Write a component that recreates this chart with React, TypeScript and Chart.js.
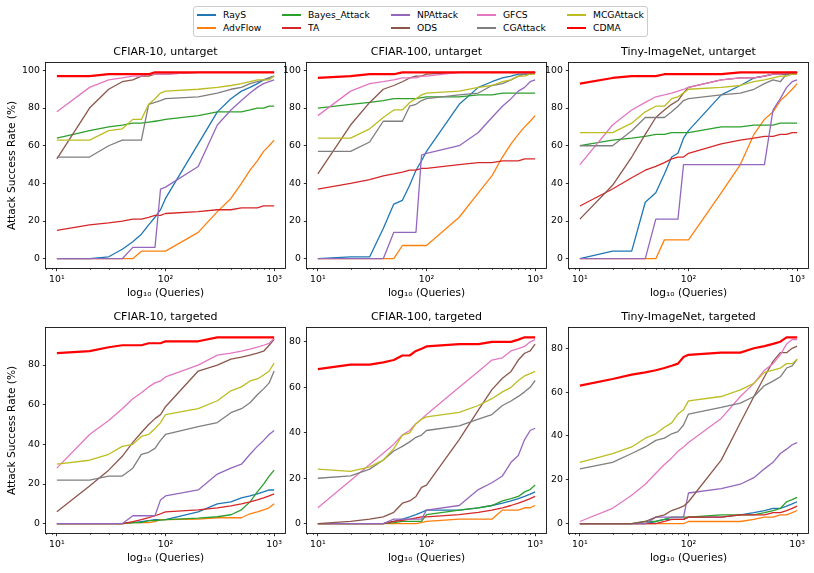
import React, { useEffect, useRef } from 'react';
import { Chart, registerables } from 'chart.js';

Chart.register(...registerables);

const FONT = "'DejaVu Sans', 'Liberation Sans', sans-serif";

// ---------------- data ----------------
const queries = [10, 20, 30, 40, 50, 60, 70, 80, 90, 100, 200, 300, 400, 500, 600, 700, 800, 900, 1000];
const methods = ['RayS', 'AdvFlow', 'Bayes_Attack', 'TA', 'NPAttack', 'ODS', 'GFCS', 'CGAttack', 'MCGAttack', 'CDMA'];
const colors = ['#1f77b4', '#ff7f0e', '#2ca02c', '#d62728', '#9467bd', '#8c564b', '#e377c2', '#7f7f7f', '#bcbd22', '#ff0000'];
const xMajorTicks = [10, 100, 1000];
const xMajorLabels = ['10¹', '10²', '10³'];
const xMinorTicks = [8, 9, 20, 30, 40, 50, 60, 70, 80, 90, 200, 300, 400, 500, 600, 700, 800, 900];
const yTickStep = 20;

// CFIAR-10, untarget
const c10u_RayS = [0, 0, 1, 5, 9, 13, 18, 22, 26, 32, 61, 78, 85, 89, 91, 93, 95, 96, 97];
const c10u_AdvFlow = [0, 0, 0, 0, 0, 4, 4, 4, 4, 4, 14, 25, 32, 40, 47, 52, 57, 60, 63];
const c10u_Bayes = [64, 68, 70, 71, 72, 72, 72.5, 73, 73.5, 74, 76, 78, 78, 78, 79, 80, 80, 81, 81];
const c10u_TA = [15, 18, 19, 20, 21, 21, 22, 23, 23, 24, 25, 26, 26, 27, 27, 27, 28, 28, 28];
const c10u_NPAttack = [0, 0, 0, 0, 6, 6, 6, 6, 37, 38, 49, 71, 79, 84, 88, 91, 93, 94, 95];
const c10u_ODS = [53, 80, 90, 94, 95, 97, 97, 98, 98, 98, 99, 99, 99, 99, 99, 99, 99, 99, 99];
const c10u_GFCS = [78, 91, 95, 96, 97, 97, 98, 98, 98, 98, 99, 99, 99, 99, 99, 99, 99, 99, 99];
const c10u_CGAttack = [54, 54, 60, 63, 63, 63, 82, 83, 84, 85, 86, 88, 90, 91, 93, 94, 95, 96, 97];
const c10u_MCGAttack = [63, 63, 68, 69, 74, 74, 82, 85, 88, 89, 90, 91, 92, 93, 94, 95, 95, 95, 97];
const c10u_CDMA = [97, 97, 98, 98, 98, 98, 98, 99, 99, 99, 99, 99, 99, 99, 99, 99, 99, 99, 99];

// CFIAR-100, untarget
const c100u_RayS = [0, 1, 1, 16, 29, 31, 39, 47, 52, 57, 82, 91, 94, 96, 97, 98, 98, 98, 99];
const c100u_AdvFlow = [0, 0, 0, 0, 0, 7, 7, 7, 7, 7, 22, 35, 44, 54, 61, 66, 70, 73, 76];
const c100u_Bayes = [80, 82, 83, 84, 85, 85, 85, 85, 85.5, 86, 86, 87, 87, 88, 88, 88, 88, 88, 88];
const c100u_TA = [37, 40, 42, 44, 45, 46, 47, 47, 48, 48, 50, 51, 51, 52, 52, 52, 53, 53, 53];
const c100u_NPAttack = [0, 0, 0, 0, 14, 14, 14, 14, 55, 56, 60, 67, 75, 81, 85, 89, 91, 94, 95];
const c100u_ODS = [45, 71, 83, 90, 92, 94, 96, 97, 97, 98, 99, 99, 99, 99, 99, 99, 99, 99, 99];
const c100u_GFCS = [76, 89, 93, 94, 95, 96, 96, 96, 97, 97, 99, 99, 99, 99, 99, 99, 99, 99, 99];
const c100u_CGAttack = [57, 57, 62, 73, 73, 73, 81, 82, 84, 85, 87, 88, 92, 93, 95, 97, 98, 98, 99];
const c100u_MCGAttack = [64, 64, 69, 75, 79, 79, 83, 85, 87, 88, 89, 91, 92, 94, 95, 97, 97, 98, 98];
const c100u_CDMA = [96, 97, 98, 98, 98, 99, 99, 99, 99, 99, 99, 99, 99, 99, 99, 99, 99, 99, 99];

// Tiny-ImageNet, untarget
const tinyu_RayS = [0, 4, 4, 30, 35, 45, 54, 56, 64, 68, 87, 92, 96, 97, 98, 98, 98, 98, 99];
const tinyu_AdvFlow = [0, 0, 0, 0, 0, 10, 10, 10, 10, 10, 35, 50, 66, 74, 78, 84, 87, 90, 93];
const tinyu_Bayes = [60, 63, 64, 65, 66, 66, 67, 67, 67, 67, 70, 70, 71, 71, 71, 72, 72, 72, 72];
const tinyu_TA = [28, 37, 43, 47, 49, 51, 53, 54, 54, 56, 61, 63, 64, 65, 65, 66, 66, 67, 67];
const tinyu_NPAttack = [0, 0, 0, 0, 21, 21, 21, 21, 50, 50, 50, 50, 50, 50, 79, 85, 91, 94, 95];
const tinyu_ODS = [21, 39, 54, 66, 75, 79, 82, 84, 88, 91, 95, 96, 96, 97, 98, 98, 98, 98, 99];
const tinyu_GFCS = [50, 71, 79, 83, 86, 87, 88, 89, 90, 91, 95, 96, 96, 97, 98, 98, 99, 99, 99];
const tinyu_CGAttack = [60, 60, 68, 75, 75, 75, 78, 81, 84, 85, 87, 88, 90, 93, 95, 94, 98, 98, 98];
const tinyu_MCGAttack = [67, 67, 72, 78, 81, 81, 85, 86, 88, 90, 91, 92, 94, 95, 96, 97, 97, 98, 98];
const tinyu_CDMA = [93, 96, 97, 97, 97, 98, 98, 98, 98, 98, 98, 99, 99, 99, 99, 99, 99, 99, 99];

// CFIAR-10, targeted
const c10t_RayS = [0, 0, 0, 0, 0.5, 1, 1.5, 2, 2, 2, 6, 10, 11, 13, 14, 15, 16, 17, 17];
const c10t_AdvFlow = [0, 0, 0, 0, 0.5, 0.5, 0.5, 1, 2, 2, 2.3, 3, 3, 3, 5, 6, 7, 8, 10];
const c10t_Bayes = [0, 0, 0, 0, 0.5, 0.5, 1.5, 1.5, 1.8, 2, 2.8, 3.5, 4.5, 7, 11, 16, 20, 24, 27];
const c10t_TA = [0, 0, 0, 0, 1, 2, 3, 4, 5, 6, 7, 8, 9, 10, 11, 12, 13, 14, 15];
const c10t_NPAttack = [0, 0, 0, 0, 4, 4, 4, 4, 12, 14, 17, 25, 28, 30, 35, 39, 42, 45, 47];
const c10t_ODS = [6, 19, 27, 34, 41, 46, 50, 53, 55, 59, 77, 80, 83, 84, 85, 86, 87, 90, 93];
const c10t_GFCS = [28, 45, 52, 58, 63, 66, 69, 71, 72, 74, 80, 85, 86, 87, 88, 89, 90, 91, 93.5];
const c10t_CGAttack = [22, 22, 24, 24, 28, 35, 36, 38, 42, 45, 49, 51, 56, 58, 61, 65, 68, 71, 77];
const c10t_MCGAttack = [30, 32, 35, 39, 40, 44, 45, 48, 51, 55, 58, 62, 67, 69, 72, 73, 75, 77, 81];
const c10t_CDMA = [86, 87, 89, 90, 90, 90, 91, 91, 91, 92, 92, 94, 94, 94, 94, 94, 94, 94, 94];

// CFIAR-100, targeted
const c100t_RayS = [0, 0, 0, 0, 1, 2, 3, 4, 5, 6, 6, 7, 8, 9, 10, 11, 12, 13, 14];
const c100t_AdvFlow = [0, 0, 0, 0, 0, 0, 0, 0, 0.5, 1, 2, 2, 2, 6, 6, 6, 7, 7, 8];
const c100t_Bayes = [0, 0, 0, 0, 0.5, 1, 1, 1, 1, 4, 6, 7, 8, 10, 11, 12, 14, 15, 17];
const c100t_TA = [0, 0, 0, 0, 1, 1.5, 2, 2.5, 3, 3, 4, 5, 6, 7, 8, 9, 10, 11, 12];
const c100t_NPAttack = [0, 0, 0, 0, 2, 2, 2, 2, 2, 6, 8, 15, 18, 21, 27, 30, 37, 41, 42];
const c100t_ODS = [0, 1, 2, 3, 5, 9, 10, 12, 16, 17, 37, 50, 59, 64, 67, 72, 75, 76, 79];
const c100t_GFCS = [7, 19, 26, 31, 35, 39, 41, 44, 46, 48, 60, 67, 72, 73, 76, 77, 78, 80, 81];
const c100t_CGAttack = [20, 21, 24, 28, 32, 34, 36, 38, 39, 41, 43, 46, 48, 52, 54, 56, 58, 60, 63];
const c100t_MCGAttack = [24, 23, 25, 28, 33, 39, 40, 44, 46, 47, 49, 52, 55, 58, 60, 63, 65, 66, 67];
const c100t_CDMA = [68, 70, 70, 71, 72, 74, 74, 76, 77, 78, 79, 79, 80, 80, 80, 81, 82, 82, 82];

// Tiny-ImageNet, targeted
const tinyt_RayS = [0, 0, 0, 0, 1, 2, 2, 2, 2, 3, 3, 4, 5, 6, 7, 7, 8, 9, 10];
const tinyt_AdvFlow = [0, 0, 0, 0, 0, 0, 0, 0, 0, 1, 1, 1, 2, 3, 3, 4, 4, 5, 6];
const tinyt_Bayes = [0, 0, 0, 1, 1, 2, 3, 3, 3, 3, 4, 4, 4, 5, 6, 7, 10, 11, 12];
const tinyt_TA = [0, 0, 0, 0, 0, 1, 2, 2, 2, 3, 3, 4, 4, 4, 5, 5, 6, 7, 8];
const tinyt_NPAttack = [0, 0, 0, 0, 3, 3, 3, 3, 3, 14, 16, 18, 21, 25, 28, 32, 34, 36, 37];
const tinyt_ODS = [0, 0, 0, 1, 3, 4, 6, 7, 8, 10, 29, 46, 58, 67, 74, 78, 78, 80, 81];
const tinyt_GFCS = [1, 7, 13, 18, 23, 27, 30, 33, 35, 37, 48, 58, 64, 70, 73, 77, 82, 84, 84];
const tinyt_CGAttack = [25, 28, 32, 35, 38, 39, 41, 42, 45, 50, 53, 55, 58, 63, 65, 67, 71, 72, 75];
const tinyt_MCGAttack = [28, 32, 35, 39, 41, 44, 46, 50, 52, 56, 58, 61, 64, 69, 70, 71, 73, 73, 75];
const tinyt_CDMA = [63, 66, 68, 69, 70, 71, 72, 73, 76, 77, 78, 78, 80, 81, 82, 83, 85, 85, 85];

const panelTitles = [
  'CFIAR-10, untarget', 'CFIAR-100, untarget', 'Tiny-ImageNet, untarget',
  'CFIAR-10, targeted', 'CFIAR-100, targeted', 'Tiny-ImageNet, targeted',
];

const panelSeries = [
  [c10u_RayS, c10u_AdvFlow, c10u_Bayes, c10u_TA, c10u_NPAttack, c10u_ODS, c10u_GFCS, c10u_CGAttack, c10u_MCGAttack, c10u_CDMA],
  [c100u_RayS, c100u_AdvFlow, c100u_Bayes, c100u_TA, c100u_NPAttack, c100u_ODS, c100u_GFCS, c100u_CGAttack, c100u_MCGAttack, c100u_CDMA],
  [tinyu_RayS, tinyu_AdvFlow, tinyu_Bayes, tinyu_TA, tinyu_NPAttack, tinyu_ODS, tinyu_GFCS, tinyu_CGAttack, tinyu_MCGAttack, tinyu_CDMA],
  [c10t_RayS, c10t_AdvFlow, c10t_Bayes, c10t_TA, c10t_NPAttack, c10t_ODS, c10t_GFCS, c10t_CGAttack, c10t_MCGAttack, c10t_CDMA],
  [c100t_RayS, c100t_AdvFlow, c100t_Bayes, c100t_TA, c100t_NPAttack, c100t_ODS, c100t_GFCS, c100t_CGAttack, c100t_MCGAttack, c100t_CDMA],
  [tinyt_RayS, tinyt_AdvFlow, tinyt_Bayes, tinyt_TA, tinyt_NPAttack, tinyt_ODS, tinyt_GFCS, tinyt_CGAttack, tinyt_MCGAttack, tinyt_CDMA],
];

// ---------------- layout ----------------
const BOX_LEFT = [46, 307, 569];
const BOX_TOP = [63, 328];
const BOX_W = 239;
const BOX_H = 205;
const TITLE_H = 20;
const XAXIS_H = 40;
const RIGHT_PAD = 6;

const framePlugin = {
  id: 'frameAndMinor',
  afterDraw(chart: any) {
    const { ctx, chartArea: a, scales } = chart;
    const xs = scales.x;
    ctx.save();
    ctx.strokeStyle = '#000';
    ctx.lineWidth = 0.6;
    ctx.beginPath();
    for (const v of xMinorTicks) {
      const px = Math.round(xs.getPixelForValue(v)) + 0.5;
      if (px < a.left || px > a.right) continue;
      ctx.moveTo(px, a.bottom);
      ctx.lineTo(px, a.bottom + 2);
    }
    ctx.stroke();
    ctx.strokeStyle = '#111';
    ctx.lineWidth = 0.9;
    ctx.strokeRect(Math.round(a.left) - 0.5, Math.round(a.top) - 0.5,
      Math.round(a.right - a.left) + 1, Math.round(a.bottom - a.top) + 1);
    ctx.restore();
  },
};

function Panel({ index }: { index: number }) {
  const ref = useRef<HTMLCanvasElement>(null);
  const col = index % 3;
  const row = Math.floor(index / 3);
  const yAxisW = col === 0 ? BOX_LEFT[0] : 32;
  const left = BOX_LEFT[col] - yAxisW;
  const top = BOX_TOP[row] - TITLE_H;
  const width = yAxisW + BOX_W + RIGHT_PAD;
  const height = TITLE_H + BOX_H + XAXIS_H;

  useEffect(() => {
    const series = panelSeries[index];
    const all = series.flat();
    const hi = Math.max(...all);
    const lo = Math.min(...all);
    const pad = 0.05 * (hi - lo);
    const chart = new Chart(ref.current as HTMLCanvasElement, {
      type: 'line',
      data: {
        datasets: series.map((vals, i) => ({
          label: methods[i],
          data: vals.map((v, j) => ({ x: queries[j], y: v })),
          borderColor: colors[i],
          backgroundColor: colors[i],
          borderWidth: i === methods.length - 1 ? 2.2 : 1.3,
          pointRadius: 0,
          pointHoverRadius: 0,
          fill: false,
          tension: 0,
          borderJoinStyle: 'round',
          order: methods.length - i,
        })),
      },
      options: {
        animation: false,
        responsive: false,
        maintainAspectRatio: false,
        events: [],
        layout: { padding: { left: 0, right: RIGHT_PAD, top: 0, bottom: 0 } },
        plugins: {
          legend: { display: false },
          tooltip: { enabled: false },
          title: {
            display: true,
            text: panelTitles[index],
            fullSize: false,
            color: '#000',
            font: { family: FONT, size: 11, weight: 'normal', lineHeight: 1.2 },
            padding: { top: TITLE_H - 13.2 - 4.4, bottom: 4.4 },
          },
        },
        scales: {
          x: {
            type: 'logarithmic',
            min: Math.pow(10, 0.9),
            max: Math.pow(10, 3.1),
            afterBuildTicks: (s: any) => {
              s.ticks = xMajorTicks.map((v) => ({ value: v, major: true }));
            },
            afterFit: (s: any) => {
              s.height = XAXIS_H;
              s.paddingLeft = 0;
              s.paddingRight = 0;
            },
            ticks: {
              autoSkip: false,
              maxRotation: 0,
              padding: 3,
              color: '#000',
              font: { family: FONT, size: 9.3 },
              callback: (v: any) => {
                const k = xMajorTicks.indexOf(Number(v));
                return k >= 0 ? xMajorLabels[k] : '';
              },
            },
            grid: { display: true, drawOnChartArea: false, drawTicks: true, tickLength: 3.2, color: '#000', lineWidth: 0.8 },
            border: { display: false },
            title: {
              display: true,
              text: 'log₁₀ (Queries)',
              color: '#000',
              font: { family: FONT, size: 10.6 },
              padding: { top: 0, bottom: XAXIS_H - 25 - 6.36 },
            },
          },
          y: {
            type: 'linear',
            min: lo - pad,
            max: hi + pad,
            afterBuildTicks: (s: any) => {
              const t: any[] = [];
              for (let v = 0; v <= s.max + 1e-9; v += yTickStep) if (v >= s.min) t.push({ value: v });
              s.ticks = t;
            },
            afterFit: (s: any) => {
              s.width = yAxisW;
              s.paddingTop = 0;
              s.paddingBottom = 0;
            },
            ticks: {
              padding: 3,
              color: '#000',
              font: { family: FONT, size: 9.3 },
              callback: (v: any) => String(v),
            },
            grid: { display: true, drawOnChartArea: false, drawTicks: true, tickLength: 3.2, color: '#000', lineWidth: 0.8 },
            border: { display: false },
            title: {
              display: col === 0,
              text: 'Attack Success Rate (%)',
              color: '#000',
              font: { family: FONT, size: 10.6 },
              padding: { top: 12 - 6.36, bottom: 0 },
            },
          },
        },
      } as any,
      plugins: [framePlugin],
    });
    return () => chart.destroy();
  }, [index]);

  return (
    <canvas
      ref={ref}
      width={width}
      height={height}
      style={{ position: 'absolute', left, top, width, height }}
    />
  );
}

function Legend() {
  const swatchX = [197, 282, 391, 477, 567];
  const rowY = [15, 28];
  const items = methods.map((m, i) => {
    const c = Math.floor(i / 2);
    const r = i % 2;
    const lw = i === methods.length - 1 ? 2.2 : 1.3;
    return (
      <React.Fragment key={m}>
        <div style={{ position: 'absolute', left: swatchX[c], top: rowY[r] - lw / 2, width: 18.5, height: lw, background: colors[i] }} />
        <div style={{ position: 'absolute', left: swatchX[c] + 26, top: rowY[r] - 6, height: 12, lineHeight: '12px', fontSize: '9.2px', fontFamily: FONT, color: '#000', whiteSpace: 'nowrap' }}>{m}</div>
      </React.Fragment>
    );
  });
  return (
    <>
      <div style={{ position: 'absolute', left: 193, top: 6, width: 455, height: 31, boxSizing: 'border-box', border: '1px solid #cccccc', borderRadius: 3, background: '#fff' }} />
      {items}
    </>
  );
}

export default function App() {
  return (
    <div style={{ position: 'absolute', left: 0, top: 0, width: 814, height: 573, overflow: 'hidden', background: '#fff' }}>
      <Legend />
      {panelTitles.map((_, i) => <Panel key={i} index={i} />)}
    </div>
  );
}
